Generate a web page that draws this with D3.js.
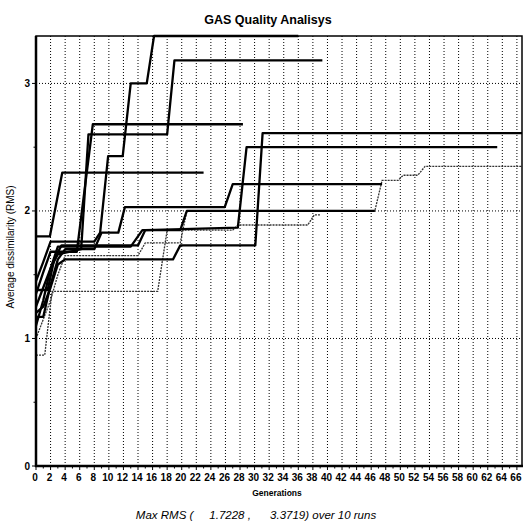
<!DOCTYPE html>
<html>
<head>
<meta charset="utf-8">
<script src="https://cdn.jsdelivr.net/npm/d3@7"></script>
<style>
  html, body { margin: 0; padding: 0; background: #fff; }
  svg { display: block; }
  text { font-family: "Liberation Sans", Arial, sans-serif; fill: #000; }
</style>
</head>
<body>
<svg id="chart" width="526" height="527"></svg>
<script>
// Average dissimilarity (RMS) per generation, ten GA runs, as [generation, value] vertices
const run1 = [[0,1.45],[1,1.60],[2,1.76],[8,1.76],[8.8,1.83],[9.9,2.43],[11.9,2.43],[13,3.0],[15.2,3.0],[16.2,3.3719],[36,3.3719]];
const run2 = [[0,1.25],[1,1.40],[2,1.55],[3,1.66],[6.2,1.70],[7.2,2.60],[18,2.60],[19,3.18],[39.3,3.18]];
const run3 = [[0,1.35],[1,1.52],[2,1.68],[5.6,1.68],[7.8,2.68],[28.4,2.68]];
const run4 = [[0,1.80],[1.9,1.80],[3.6,2.30],[23,2.30]];
const run5 = [[0,1.20],[1,1.25],[2,1.40],[3,1.58],[4,1.62],[18.8,1.62],[19.8,1.73],[30.1,1.73],[31.1,2.61],[66.7,2.61]];
const run6 = [[0,1.38],[1.6,1.38],[2.5,1.62],[3.5,1.73],[14,1.73],[15,1.85],[27.7,1.87],[28.9,2.50],[63.3,2.50]];
const run7 = [[0,1.10],[1,1.30],[2,1.55],[3,1.72],[13,1.72],[14.6,1.85],[19.8,1.85],[20.7,2.00],[46.5,2.00]];
const run8 = [[0,1.17],[1,1.17],[2,1.42],[3,1.62],[4,1.70],[8,1.70],[9,1.83],[11.3,1.83],[12.2,2.03],[25.9,2.03],[27,2.21],[47.5,2.21]];
const run9 = [[0,1.00],[1,1.15],[2,1.30],[3,1.50],[4,1.65],[14,1.65],[15,1.75],[19.8,1.75],[20.7,2.00],[46.5,2.00],[47.5,2.24],[49.7,2.24],[50.4,2.28],[52.4,2.28],[53.4,2.35],[66.7,2.35]];
const run10 = [[0,0.87],[1.2,0.87],[2.2,1.37],[16.7,1.37],[18,1.85],[27,1.85],[27.7,1.89],[37.3,1.89],[38.2,1.97],[39,1.97]];

const thickRuns = [run1, run2, run3, run4, run5, run6, run7, run8];
const thinRuns = [run9, run10];

const xTicks = d3.range(0, 67, 2);       // labelled generations
const yTicks = [0, 1, 2, 3];
const yMinorTicks = [0.5, 1.5, 2.5];
const genMax = 66.7;
const rmsMax = 3.3719;
const maxRms = ["1.7228", "3.3719"];
const runCount = 10;

const svg = d3.select("#chart");
const mLeft = 36, mRight = 522, mTop = 36, mBottom = 466;

const x = d3.scaleLinear().domain([0, genMax]).range([mLeft, mRight]);
const y = d3.scaleLinear().domain([0, rmsMax]).range([mBottom, mTop]);

// grid
const grid = svg.append("g");
grid.selectAll("line.vg").data(xTicks.filter(d => d > 0)).enter().append("line")
  .attr("x1", d => x(d)).attr("x2", d => x(d))
  .attr("y1", mTop).attr("y2", mBottom)
  .attr("stroke", "#000").attr("stroke-width", 1)
  .attr("stroke-dasharray", "1,2");
grid.selectAll("line.hg").data(yTicks.filter(d => d > 0)).enter().append("line")
  .attr("x1", mLeft).attr("x2", mRight)
  .attr("y1", d => y(d)).attr("y2", d => y(d))
  .attr("stroke", "#000").attr("stroke-width", 1)
  .attr("stroke-dasharray", "1,2");

// runs
const line = d3.line().x(d => x(d[0])).y(d => y(d[1]));
svg.append("g").selectAll("path").data(thinRuns).enter().append("path")
  .attr("d", line).attr("fill", "none")
  .attr("stroke", "#333").attr("stroke-width", 1.3)
  .attr("stroke-dasharray", "2,1");
svg.append("g").selectAll("path").data(thickRuns).enter().append("path")
  .attr("d", line).attr("fill", "none")
  .attr("stroke", "#000").attr("stroke-width", 2.3)
  .attr("stroke-linejoin", "round");

// frame
svg.append("rect").attr("x", mLeft).attr("y", mTop)
  .attr("width", mRight - mLeft).attr("height", mBottom - mTop)
  .attr("fill", "none").attr("stroke", "#000").attr("stroke-width", 1.5);
svg.append("line").attr("x1", mLeft).attr("x2", mLeft).attr("y1", mTop).attr("y2", mBottom + 1)
  .attr("stroke", "#000").attr("stroke-width", 2.5);
svg.append("line").attr("x1", mLeft - 1).attr("x2", mRight + 1).attr("y1", mBottom).attr("y2", mBottom)
  .attr("stroke", "#000").attr("stroke-width", 2.5);

// x axis ticks and labels
const xAxis = svg.append("g");
xAxis.selectAll("line").data(d3.range(0, 67, 1)).enter().append("line")
  .attr("x1", d => x(d)).attr("x2", d => x(d))
  .attr("y1", mBottom).attr("y2", d => mBottom + (d % 2 === 0 ? 4 : 2.5))
  .attr("stroke", "#000").attr("stroke-width", 1);
xAxis.selectAll("text").data(xTicks).enter().append("text")
  .attr("x", d => x(d) - 1).attr("y", mBottom + 15)
  .attr("text-anchor", "middle")
  .attr("font-size", 10).attr("font-weight", "bold")
  .text(d => d);

// y axis ticks and labels
const yAxis = svg.append("g");
yAxis.selectAll("line.maj").data(yTicks).enter().append("line")
  .attr("x1", mLeft - 4).attr("x2", mLeft)
  .attr("y1", d => y(d)).attr("y2", d => y(d))
  .attr("stroke", "#000").attr("stroke-width", 1);
yAxis.selectAll("line.min").data(yMinorTicks).enter().append("line")
  .attr("x1", mLeft - 2.5).attr("x2", mLeft)
  .attr("y1", d => y(d)).attr("y2", d => y(d))
  .attr("stroke", "#000").attr("stroke-width", 1);
yAxis.selectAll("text").data(yTicks).enter().append("text")
  .attr("x", mLeft - 6).attr("y", d => y(d) + 3.5)
  .attr("text-anchor", "end")
  .attr("font-size", 10).attr("font-weight", "bold")
  .text(d => d);

// titles
svg.append("text").attr("x", 268).attr("y", 24)
  .attr("text-anchor", "middle").attr("font-size", 12.5).attr("font-weight", "bold")
  .text("GAS Quality Analisys");
svg.append("text").attr("transform", "translate(14,247) rotate(-90)")
  .attr("text-anchor", "middle").attr("font-size", 10)
  .text("Average dissimilarity (RMS)");
svg.append("text").attr("x", 277).attr("y", mBottom + 30)
  .attr("text-anchor", "middle").attr("font-size", 8.5).attr("font-weight", "bold")
  .text("Generations");
svg.append("text").attr("x", 256).attr("y", mBottom + 53)
  .attr("text-anchor", "middle").attr("font-size", 11.5).attr("font-style", "italic")
  .style("white-space", "pre")
  .text(`Max RMS (     ${maxRms[0]} ,      ${maxRms[1]}) over ${runCount} runs`);
</script>
</body>
</html>
